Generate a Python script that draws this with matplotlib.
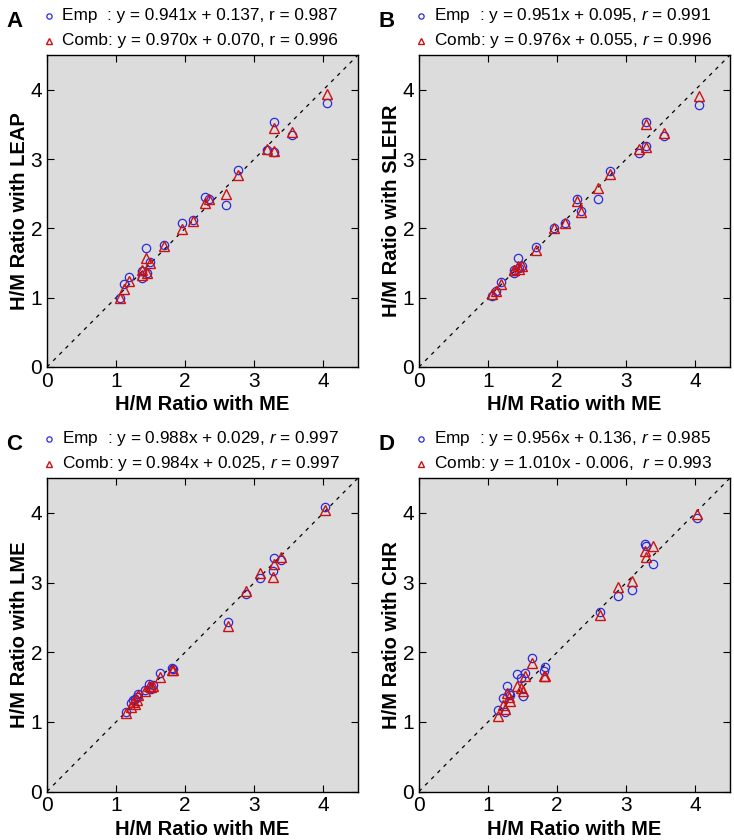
import matplotlib
matplotlib.use('Agg')
import matplotlib.pyplot as plt

plt.rcParams['font.family'] = ['Liberation Sans', 'DejaVu Sans']
plt.rcParams['mathtext.fontset'] = 'custom'
plt.rcParams['mathtext.rm'] = 'Liberation Sans'
plt.rcParams['mathtext.it'] = 'Liberation Sans:italic'

# H/M ratio with ME (x) for panels A/B and C/D
me_ab = [1.05, 1.12, 1.18, 1.37, 1.37, 1.44, 1.45, 1.49, 1.69, 1.95,
         2.11, 2.29, 2.35, 2.59, 2.77, 3.18, 3.28, 3.28, 3.54, 4.05]
me_cd = [1.14, 1.21, 1.24, 1.27, 1.30, 1.31, 1.42, 1.47, 1.51, 1.54,
         1.64, 1.81, 1.83, 2.62, 2.88, 3.08, 3.27, 3.29, 3.39, 4.02]

# A: LEAP
leap_emp = [1.00, 1.19, 1.30, 1.29, 1.38, 1.72, 1.35, 1.52, 1.76, 2.07,
            2.12, 2.45, 2.43, 2.34, 2.84, 3.13, 3.53, 3.10, 3.35, 3.81]
leap_comb = [1.00, 1.13, 1.24, 1.33, 1.40, 1.57, 1.36, 1.50, 1.74, 1.99,
             2.10, 2.36, 2.43, 2.49, 2.77, 3.14, 3.45, 3.11, 3.39, 3.94]
# B: SLEHR
slehr_emp = [1.02, 1.09, 1.22, 1.35, 1.40, 1.57, 1.43, 1.46, 1.73, 2.01,
             2.07, 2.43, 2.25, 2.42, 2.82, 3.08, 3.54, 3.19, 3.33, 3.78]
slehr_comb = [1.05, 1.09, 1.19, 1.40, 1.40, 1.45, 1.42, 1.45, 1.69, 2.01,
              2.07, 2.39, 2.24, 2.58, 2.78, 3.14, 3.50, 3.18, 3.38, 3.91]
# C: LME
lme_emp = [1.14, 1.27, 1.31, 1.33, 1.35, 1.40, 1.46, 1.55, 1.47, 1.53,
           1.70, 1.77, 1.76, 2.43, 2.84, 3.07, 3.17, 3.35, 3.32, 4.09]
lme_comb = [1.13, 1.22, 1.28, 1.25, 1.32, 1.38, 1.44, 1.52, 1.50, 1.51,
            1.65, 1.75, 1.74, 2.38, 2.88, 3.13, 3.08, 3.26, 3.37, 4.04]
# D: CHR
chr_emp = [1.17, 1.34, 1.14, 1.52, 1.42, 1.38, 1.69, 1.63, 1.37, 1.70,
           1.91, 1.73, 1.79, 2.57, 2.80, 2.89, 3.56, 3.53, 3.27, 3.92]
chr_comb = [1.08, 1.24, 1.18, 1.42, 1.35, 1.30, 1.52, 1.48, 1.45, 1.66,
            1.84, 1.66, 1.66, 2.54, 2.93, 3.02, 3.45, 3.37, 3.52, 3.99]

panels = [
    ('A', 'LEAP', me_ab, leap_emp, leap_comb,
     'Emp  : y = 0.941x + 0.137, r = 0.987', 'Comb: y = 0.970x + 0.070, r = 0.996'),
    ('B', 'SLEHR', me_ab, slehr_emp, slehr_comb,
     'Emp  : y = 0.951x + 0.095, $r$ = 0.991', 'Comb: y = 0.976x + 0.055, $r$ = 0.996'),
    ('C', 'LME', me_cd, lme_emp, lme_comb,
     'Emp  : y = 0.988x + 0.029, $r$ = 0.997', 'Comb: y = 0.984x + 0.025, $r$ = 0.997'),
    ('D', 'CHR', me_cd, chr_emp, chr_comb,
     'Emp  : y = 0.956x + 0.136, $r$ = 0.985', 'Comb: y = 1.010x - 0.006,  $r$ = 0.993'),
]

# axes rectangles in figure fractions (734 x 840 px)
rects = [(0.064, 0.5631, 0.4237, 0.3714),
         (0.5708, 0.5631, 0.4237, 0.3714),
         (0.064, 0.0577, 0.4237, 0.3732),
         (0.5708, 0.0577, 0.4237, 0.3732)]

blue = '#2a2ae0'
red = '#cc1111'

fig = plt.figure(figsize=(7.34, 8.40), dpi=100)

for (letter, method, xs, emp, comb, txt1, txt2), rect in zip(panels, rects):
    ax = fig.add_axes(rect)
    ax.set_facecolor('#dcdcdc')
    ax.plot([0, 4.5], [0, 4.5], '--', color='black', lw=0.9, dashes=(3, 4))
    ax.plot(xs, emp, 'o', mfc='none', mec=blue, ms=6, mew=0.9)
    ax.plot(xs, comb, '^', mfc='none', mec=red, ms=7, mew=1.0)
    ax.set_xlim(0, 4.5)
    ax.set_ylim(0, 4.5)
    ax.set_xticks([0, 1, 2, 3, 4])
    ax.set_yticks([0, 1, 2, 3, 4])
    ax.tick_params(direction='in', top=True, right=True, length=5, labelsize=15)
    for s in ax.spines.values():
        s.set_linewidth(1.0)
    ax.set_xlabel('H/M Ratio with ME', fontsize=14.5, fontweight='bold', labelpad=3)
    ax.set_ylabel('H/M Ratio with ' + method, fontsize=14.5, fontweight='bold', labelpad=1)

    # header: panel letter and fit equations
    left, bottom, w, h = rect
    top = bottom + h
    fig.text(left - 0.055, top + 0.040, letter, fontsize=16, fontweight='bold',
             ha='left', va='center')
    fig.lines.append(plt.Line2D([left + 0.003], [top + 0.047], marker='o', mfc='none',
                                mec=blue, ms=3.8, mew=0.9, transform=fig.transFigure))
    fig.lines.append(plt.Line2D([left + 0.003], [top + 0.017], marker='^', mfc='none',
                                mec=red, ms=4.8, mew=1.0, transform=fig.transFigure))
    fig.text(left + 0.021, top + 0.047, txt1, fontsize=12.4, ha='left', va='center')
    fig.text(left + 0.021, top + 0.017, txt2, fontsize=12.4, ha='left', va='center')

fig.savefig('out.png', dpi=100)
